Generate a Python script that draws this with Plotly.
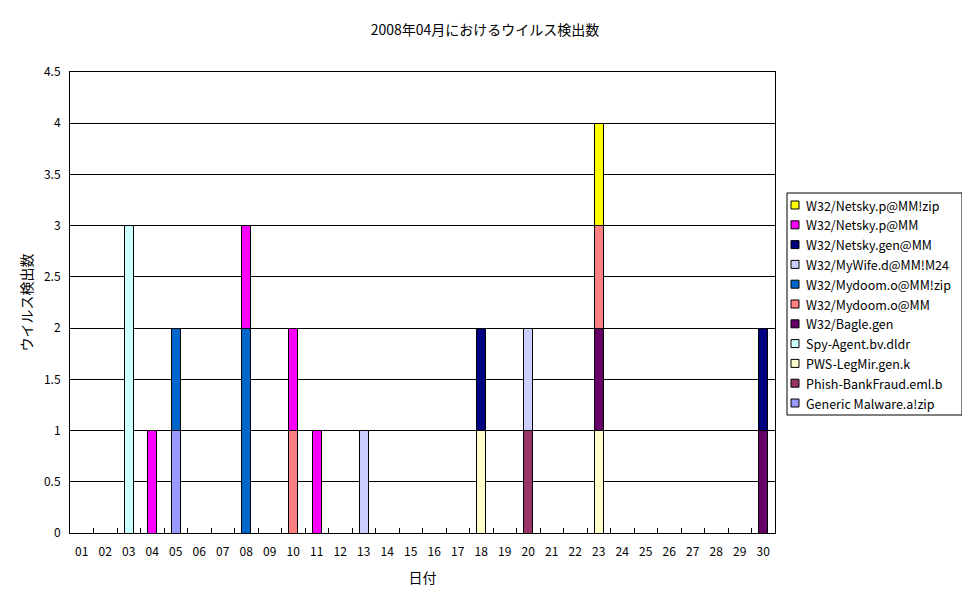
import plotly.graph_objects as go

days = ["%02d" % d for d in range(1, 31)]

# series in stacking order (bottom first)
series_names = [
    "Generic Malware.a!zip",
    "Phish-BankFraud.eml.b",
    "PWS-LegMir.gen.k",
    "Spy-Agent.bv.dldr",
    "W32/Bagle.gen",
    "W32/Mydoom.o@MM",
    "W32/Mydoom.o@MM!zip",
    "W32/MyWife.d@MM!M24",
    "W32/Netsky.gen@MM",
    "W32/Netsky.p@MM",
    "W32/Netsky.p@MM!zip",
]
series_colors = [
    "#9999FF", "#993366", "#FFFFCC", "#CCFFFF", "#660066", "#FF8080",
    "#0066CC", "#CCCCFF", "#000080", "#FF00FF", "#FFFF00",
]

# counts per day (day -> value), zero elsewhere
generic_malware = {"05": 1}
phish_bankfraud = {"20": 1}
pws_legmir = {"18": 1, "23": 1}
spy_agent = {"03": 3}
bagle_gen = {"23": 1, "30": 1}
mydoom_o = {"10": 1, "23": 1}
mydoom_o_zip = {"05": 1, "08": 2}
mywife_d = {"13": 1, "20": 1}
netsky_gen = {"18": 1, "30": 1}
netsky_p = {"04": 1, "08": 1, "10": 1, "11": 1}
netsky_p_zip = {"23": 1}

series_values = [
    generic_malware, phish_bankfraud, pws_legmir, spy_agent, bagle_gen,
    mydoom_o, mydoom_o_zip, mywife_d, netsky_gen, netsky_p, netsky_p_zip,
]

font_family = "Noto Sans CJK JP"

# page body adds an 8px offset, so the figure is a bit smaller than the window
W, H = 962, 595
ML, MT = 62, 64
PW, PH = 705, 461  # plot area size in px


def px_x(sx):
    # screen x -> paper x
    return (sx - 8 - ML) / PW


def px_y(sy):
    # screen y -> paper y
    return 1 - (sy - 8 - MT) / PH


fig = go.Figure()
for name, color, vals in zip(series_names, series_colors, series_values):
    fig.add_trace(go.Bar(
        x=days,
        y=[vals.get(d, 0) for d in days],
        name=name,
        marker=dict(color=color, line=dict(color="black", width=1)),
        showlegend=False,
    ))

# hand-built legend box (Excel style), top item = last series
fig.add_shape(type="rect", xref="paper", yref="paper",
              x0=px_x(787), x1=px_x(962), y0=px_y(415), y1=px_y(193),
              line=dict(color="black", width=1), fillcolor="white")
for i, (name, color) in enumerate(zip(series_names[::-1], series_colors[::-1])):
    cy = 205 + i * 19.8
    fig.add_shape(type="rect", xref="paper", yref="paper",
                  x0=px_x(791), x1=px_x(799), y0=px_y(cy + 4), y1=px_y(cy - 4),
                  line=dict(color="black", width=1), fillcolor=color)
    fig.add_annotation(x=px_x(804), y=px_y(cy), xref="paper", yref="paper",
                       text=name, showarrow=False, xanchor="left", yanchor="middle",
                       font=dict(size=12.5))

fig.update_layout(
    barmode="stack",
    bargap=0.62,
    width=W,
    height=H,
    margin=dict(l=ML, r=W - ML - PW, t=MT, b=H - MT - PH, autoexpand=False),
    paper_bgcolor="white",
    plot_bgcolor="white",
    showlegend=False,
    font=dict(family=font_family, size=12, color="black"),
    title=dict(
        text="2008年04月におけるウイルス検出数",
        x=477 / W, xref="container", xanchor="center",
        y=1 - 22 / H, yref="container", yanchor="middle",
        font=dict(size=14),
    ),
)

fig.update_xaxes(
    type="category", automargin=False,
    title=dict(text="日付", standoff=14),
    showline=True, linecolor="black", linewidth=1, mirror=True,
    ticks="inside", tickson="boundaries", ticklen=5, tickcolor="black",
    showgrid=False, ticklabelstandoff=8,
)
fig.update_yaxes(
    range=[0, 4.5], dtick=0.5, automargin=False,
    title=dict(text="ウイルス検出数", standoff=8),
    showline=True, linecolor="black", linewidth=1, mirror=True,
    showgrid=True, gridcolor="black", gridwidth=1,
    ticks="", zeroline=False, ticklabelstandoff=6,
)

fig.write_html("out.html")
